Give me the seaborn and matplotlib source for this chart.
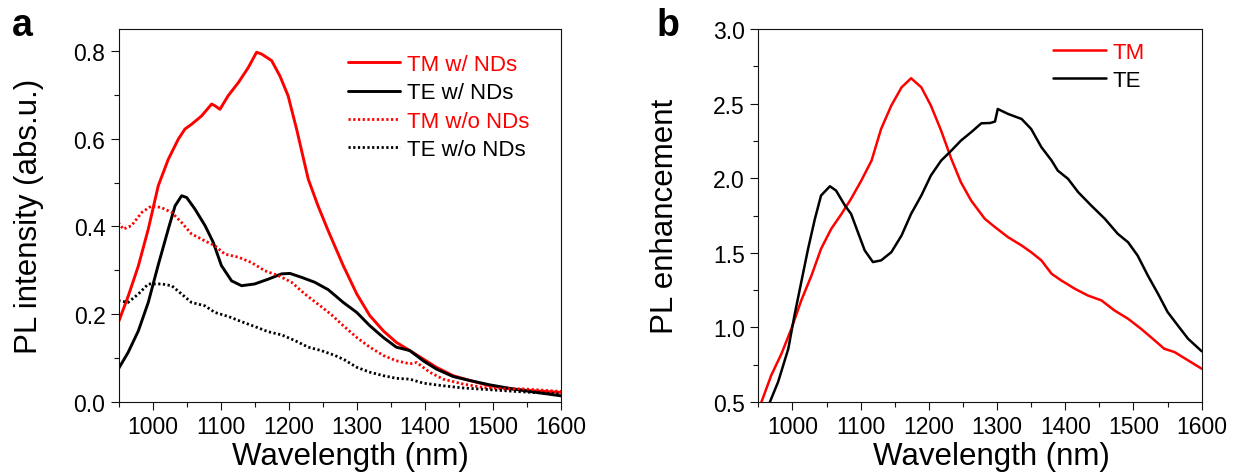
import numpy as np
import pandas as pd
import matplotlib
matplotlib.use("Agg")
import matplotlib.pyplot as plt
import seaborn as sns
from matplotlib.ticker import MultipleLocator

# ---------------- data ----------------
# Panel a: PL intensity
tm_nd_wl = [949.6, 964.3, 979, 993.6, 1008.3, 1023, 1037.7, 1047.5, 1057.3, 1072, 1086.7, 1091.6,
            1098.9, 1111, 1126, 1140.5, 1152.7, 1160, 1174.8, 1187, 1199, 1211.5, 1228.6, 1243,
            1258, 1280, 1300, 1319, 1339, 1358, 1378, 1397.5, 1417, 1441.5, 1466, 1495.5, 1525,
            1554, 1600]
tm_nd_val = [0.181, 0.242, 0.31, 0.394, 0.493, 0.553, 0.599, 0.622, 0.633, 0.652, 0.679, 0.675,
             0.667, 0.698, 0.728, 0.762, 0.797, 0.793, 0.778, 0.743, 0.698, 0.622, 0.508, 0.447,
             0.39, 0.311, 0.246, 0.197, 0.162, 0.136, 0.117, 0.098, 0.079, 0.06, 0.049, 0.037,
             0.03, 0.026, 0.022]

te_nd_wl = [949.6, 964, 979, 993.6, 1008, 1023, 1033, 1042.6, 1050, 1062, 1077, 1089, 1101, 1116,
            1130.7, 1150, 1170, 1189.5, 1201.7, 1219, 1238, 1258, 1280, 1300, 1319, 1339, 1358,
            1378, 1397.5, 1417, 1441.5, 1466, 1495.5, 1525, 1554, 1600]
te_nd_val = [0.075, 0.113, 0.162, 0.227, 0.311, 0.394, 0.447, 0.47, 0.466, 0.44, 0.402, 0.364,
             0.311, 0.276, 0.265, 0.269, 0.28, 0.292, 0.293, 0.284, 0.273, 0.256, 0.227, 0.204,
             0.174, 0.147, 0.125, 0.117, 0.094, 0.075, 0.058, 0.049, 0.039, 0.031, 0.024, 0.014]

tm_no_wl = [949.6, 957, 969, 984, 998.5, 1013, 1028, 1042.6, 1057, 1077, 1091.6, 1106, 1126, 1145,
            1165, 1184.6, 1204, 1223.7, 1243, 1262, 1280, 1300, 1319, 1339, 1358, 1378, 1388, 1407,
            1427, 1456, 1486, 1515, 1544, 1600]
tm_no_val = [0.409, 0.394, 0.402, 0.432, 0.447, 0.443, 0.432, 0.409, 0.383, 0.367, 0.356, 0.337,
             0.33, 0.318, 0.299, 0.288, 0.273, 0.246, 0.223, 0.2, 0.174, 0.147, 0.125, 0.106,
             0.094, 0.087, 0.09, 0.068, 0.052, 0.041, 0.033, 0.03, 0.03, 0.024]

te_no_wl = [949.6, 964, 979, 993.6, 1013, 1028, 1042.6, 1057, 1077, 1091.6, 1111, 1130.7, 1150,
            1170, 1189.5, 1209, 1228.6, 1248, 1268, 1282, 1300, 1319, 1339, 1358, 1378, 1397.5,
            1427, 1456, 1495.5, 1534, 1600]
te_no_val = [0.231, 0.227, 0.246, 0.269, 0.269, 0.265, 0.246, 0.227, 0.219, 0.204, 0.195, 0.183,
             0.172, 0.16, 0.153, 0.14, 0.125, 0.117, 0.106, 0.096, 0.079, 0.068, 0.06, 0.054,
             0.052, 0.043, 0.037, 0.032, 0.028, 0.024, 0.018]

# Panel b: PL enhancement
tm_enh_wl = [954.6, 969, 984, 998.5, 1013, 1028, 1042, 1057, 1072, 1086, 1101, 1116, 1130, 1145,
             1160, 1174, 1189, 1203, 1218, 1233, 1247, 1262, 1282, 1297, 1316, 1336, 1350, 1365,
             1380, 1394, 1414, 1433, 1453, 1472, 1492, 1511, 1531, 1545, 1560, 1580, 1600]
tm_enh_val = [0.5, 0.679, 0.824, 0.991, 1.181, 1.348, 1.527, 1.661, 1.761, 1.862, 1.984, 2.118,
              2.33, 2.487, 2.609, 2.67, 2.609, 2.487, 2.319, 2.129, 1.973, 1.85, 1.728, 1.672,
              1.605, 1.549, 1.504, 1.449, 1.359, 1.315, 1.259, 1.214, 1.181, 1.114, 1.058, 0.991,
              0.913, 0.857, 0.835, 0.779, 0.723]

te_enh_wl = [967, 979, 994, 1003, 1013, 1023, 1033, 1042, 1055, 1064, 1077, 1086, 1096, 1106, 1118,
             1130, 1145, 1160, 1174, 1189, 1203, 1218, 1233, 1247, 1262, 1277, 1290, 1297, 1301,
             1316, 1336, 1350, 1365, 1380, 1389, 1404, 1419, 1438, 1458, 1477, 1492, 1506, 1521,
             1536, 1550, 1565, 1580, 1600]
te_enh_val = [0.5, 0.634, 0.857, 1.08, 1.304, 1.527, 1.728, 1.884, 1.946, 1.917, 1.817, 1.761,
              1.638, 1.516, 1.438, 1.449, 1.504, 1.616, 1.761, 1.884, 2.018, 2.118, 2.185, 2.252,
              2.308, 2.368, 2.37, 2.38, 2.464, 2.431, 2.397, 2.33, 2.208, 2.118, 2.051, 1.996,
              1.906, 1.817, 1.728, 1.627, 1.571, 1.482, 1.348, 1.225, 1.103, 1.013, 0.924, 0.84]

labels_a = ["TM w/ NDs", "TE w/ NDs", "TM w/o NDs", "TE w/o NDs"]
labels_b = ["TM", "TE"]

# ---------------- style ----------------
sns.set_theme(style="ticks")
plt.rcParams['font.family'] = ['Liberation Sans', 'DejaVu Sans']
plt.rcParams['text.color'] = 'black'
plt.rcParams['axes.labelcolor'] = 'black'
plt.rcParams['xtick.color'] = 'black'
plt.rcParams['ytick.color'] = 'black'
plt.rcParams['axes.linewidth'] = 0.8
plt.rcParams['axes.edgecolor'] = '#111111'

RED = '#ff0000'
BLK = '#000000'
DOT = (0, (0.8, 0.9))

fig = plt.figure(figsize=(12.34, 4.77), dpi=100)
ax_a = fig.add_axes([118.6 / 1234, 74 / 477, 442.4 / 1234, 373 / 477])
ax_b = fig.add_axes([758.3 / 1234, 74 / 477, 443.4 / 1234, 373 / 477])

series_a = [
    (tm_nd_wl, tm_nd_val, RED, '-', 2.1),
    (te_nd_wl, te_nd_val, BLK, '-', 2.1),
    (tm_no_wl, tm_no_val, RED, DOT, 2.0),
    (te_no_wl, te_no_val, BLK, DOT, 2.0),
]
for (wl, val, col, ls, lw), lab in zip(series_a, labels_a):
    df = pd.DataFrame({"wl": wl, "val": val})
    sns.lineplot(data=df, x="wl", y="val", ax=ax_a, color=col, linestyle=ls, linewidth=lw,
                 estimator=None, sort=False, label=lab)

series_b = [
    (tm_enh_wl, tm_enh_val, RED),
    (te_enh_wl, te_enh_val, BLK),
]
for (wl, val, col), lab in zip(series_b, labels_b):
    df = pd.DataFrame({"wl": wl, "val": val})
    sns.lineplot(data=df, x="wl", y="val", ax=ax_b, color=col, linewidth=1.8,
                 estimator=None, sort=False, label=lab)

for ax in (ax_a, ax_b):
    ax.set_xlim(950, 1600)
    ax.xaxis.set_major_locator(MultipleLocator(100))
    ax.xaxis.set_minor_locator(MultipleLocator(50))
    ax.tick_params(axis='both', which='major', direction='out', length=6, width=0.8,
                   labelsize=16.5, pad=3.5, colors='#111111', labelcolor='black')
    ax.tick_params(axis='both', which='minor', direction='out', length=3.5, width=0.8,
                   colors='#111111')
    ax.tick_params(top=False, right=False, which='both')
    for s in ax.spines.values():
        s.set_visible(True)
        s.set_linewidth(0.8)
    ax.set_xlabel("Wavelength (nm)", fontsize=22.5, color='black')
    ax.xaxis.set_label_coords(0.525, -0.104)

ax_a.set_ylim(0.0, 0.85)
ax_a.yaxis.set_major_locator(MultipleLocator(0.2))
ax_a.yaxis.set_minor_locator(MultipleLocator(0.1))
ax_a.yaxis.set_major_formatter(matplotlib.ticker.FormatStrFormatter('%.1f'))
ax_a.set_ylabel("PL intensity (abs.u.)", fontsize=22.5, color='black')
ax_a.yaxis.set_label_coords(-0.168, 0.5)

ax_b.set_ylim(0.5, 3.0)
ax_b.yaxis.set_major_locator(MultipleLocator(0.5))
ax_b.yaxis.set_minor_locator(MultipleLocator(0.25))
ax_b.yaxis.set_major_formatter(matplotlib.ticker.FormatStrFormatter('%.1f'))
ax_b.set_ylabel("PL enhancement", fontsize=22.5, color='black')
ax_b.yaxis.set_label_coords(-0.177, 0.5)

leg_a = ax_a.legend(loc='upper left', bbox_to_anchor=(0.519, 0.933), frameon=False,
                    fontsize=16, handlelength=2.35, handletextpad=0.3, labelspacing=0.33,
                    borderpad=0, borderaxespad=0, labelcolor='linecolor')
leg_b = ax_b.legend(loc='upper left', bbox_to_anchor=(0.665, 0.966), frameon=False,
                    fontsize=16, handlelength=2.4, handletextpad=0.25, labelspacing=0.34,
                    borderpad=0, borderaxespad=0, labelcolor='linecolor')

fig.text(12 / 1234, 1 - 36 / 477, "a", fontsize=27, fontweight='bold', va='baseline',
         color='black')
fig.text(657 / 1234, 1 - 36 / 477, "b", fontsize=27, fontweight='bold', va='baseline',
         color='black')

fig.savefig("out.png", dpi=100)
